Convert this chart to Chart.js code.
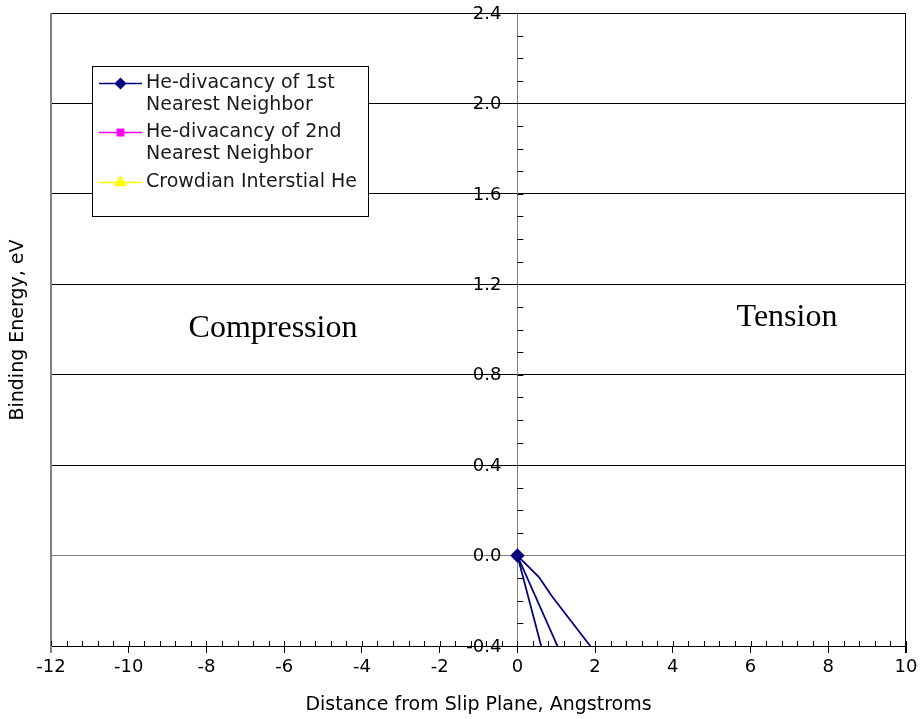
<!DOCTYPE html>
<html>
<head>
<meta charset="utf-8">
<script src="https://cdn.jsdelivr.net/npm/chart.js@4.4.1/dist/chart.umd.min.js"></script>
<style>
  html, body { margin: 0; padding: 0; background: #ffffff; }
  #wrap { width: 922px; height: 719px; }
</style>
</head>
<body>
<div id="wrap"><canvas id="chart" width="922" height="719"></canvas></div>
<script>
// Binding energy vs. distance from the slip plane
const divacancy1stX = [0, 0.56, 0.88, 2.1];
const divacancy1stY = [0, -0.096, -0.178, -0.45];
const branchBX = [0, 1.16];
const branchBY = [0, -0.45];
const branchCX = [0, 0.69];
const branchCY = [0, -0.45];
const divacancy2ndX = [];
const divacancy2ndY = [];
const crowdionX = [];
const crowdionY = [];

const seriesNames = [
  ['He-divacancy of 1st', 'Nearest Neighbor'],
  ['He-divacancy of 2nd', 'Nearest Neighbor'],
  ['Crowdian Interstial He']
];
const regionLabels = ['Compression', 'Tension'];
const xTitle = 'Distance from Slip Plane, Angstroms';
const yTitle = 'Binding Energy, eV';

const NAVY = '#000080', MAGENTA = '#ff00ff', YELLOW = '#ffff00';
const SANS = '"DejaVu Sans", Verdana, sans-serif';

function pts(xs, ys) { return xs.map((x, i) => ({ x: x, y: ys[i] })); }
function fmt1(v) { return Math.abs(v) < 1e-9 ? '0.0' : Number(v).toFixed(1); }

const datasets = [
  { label: seriesNames[0], data: pts(divacancy1stX, divacancy1stY), borderColor: NAVY, backgroundColor: NAVY,
    pointStyle: 'rectRot', pointRadius: c => (c.dataIndex === 0 ? 6 : 0), showLine: true, borderWidth: 1.75, inLegend: true },
  { label: '', data: pts(branchBX, branchBY), borderColor: NAVY, backgroundColor: NAVY,
    pointRadius: 0, showLine: true, borderWidth: 1.75, inLegend: false },
  { label: '', data: pts(branchCX, branchCY), borderColor: NAVY, backgroundColor: NAVY,
    pointRadius: 0, showLine: true, borderWidth: 1.75, inLegend: false },
  { label: seriesNames[1], data: pts(divacancy2ndX, divacancy2ndY), borderColor: MAGENTA, backgroundColor: MAGENTA,
    pointStyle: 'rect', pointRadius: 4.5, showLine: true, borderWidth: 1.5, inLegend: true },
  { label: seriesNames[2], data: pts(crowdionX, crowdionY), borderColor: YELLOW, backgroundColor: YELLOW,
    pointStyle: 'triangle', pointRadius: 5.5, showLine: true, borderWidth: 1.5, inLegend: true }
];

// Frame, minor ticks, y labels, y title, region labels and the boxed legend
const decorations = {
  id: 'decorations',
  beforeDatasetsDraw(chart) {
    const ctx = chart.ctx, a = chart.chartArea;
    const xs = chart.scales.x, ys = chart.scales.y;
    const x0 = xs.getPixelForValue(0);
    ctx.save();
    // left edge (grey) and right edge (black)
    ctx.lineWidth = 2; ctx.strokeStyle = '#808080';
    ctx.beginPath(); ctx.moveTo(a.left, a.top); ctx.lineTo(a.left, a.bottom + 7); ctx.stroke();
    ctx.lineWidth = 1; ctx.strokeStyle = '#000';
    ctx.beginPath(); ctx.moveTo(Math.round(a.right) - 0.5, a.top); ctx.lineTo(Math.round(a.right) - 0.5, a.bottom + 7); ctx.stroke();
    // minor ticks on the x axis every 0.4
    ctx.beginPath();
    for (let i = 0; i <= 55; i++) {
      const px = Math.round(xs.getPixelForValue(-12 + i * 0.4)) + 0.5;
      ctx.moveTo(px, a.bottom); ctx.lineTo(px, a.bottom - 5);
    }
    ctx.stroke();
    // minor ticks on the y axis every 0.1
    ctx.beginPath();
    for (let i = 0; i <= 28; i++) {
      const py = Math.round(ys.getPixelForValue(-0.4 + i * 0.1)) + 0.5;
      ctx.moveTo(x0, py); ctx.lineTo(x0 + 6, py);
    }
    ctx.stroke();
    ctx.restore();
  },
  afterDraw(chart) {
    const ctx = chart.ctx;
    const xs = chart.scales.x, ys = chart.scales.y;
    const x0 = xs.getPixelForValue(0);
    ctx.save();
    // y tick labels, right-aligned a little left of the y axis
    ctx.fillStyle = '#000';
    ctx.font = '18px ' + SANS;
    ctx.textAlign = 'right'; ctx.textBaseline = 'middle';
    ys.ticks.forEach(t => ctx.fillText(fmt1(t.value), x0 - 16, ys.getPixelForValue(t.value) + 1));
    ctx.restore();

    // y axis title
    ctx.save();
    ctx.fillStyle = '#000';
    ctx.font = '19px ' + SANS;
    ctx.textAlign = 'center'; ctx.textBaseline = 'middle';
    ctx.translate(18, 330); ctx.rotate(-Math.PI / 2);
    ctx.fillText(yTitle, 0, 0);
    ctx.restore();

    // region labels
    ctx.save();
    ctx.fillStyle = '#000';
    ctx.font = '32px "Liberation Serif", "Times New Roman", serif';
    ctx.textAlign = 'center'; ctx.textBaseline = 'alphabetic';
    ctx.fillText(regionLabels[0], 273, 337);
    ctx.fillText(regionLabels[1], 787, 326);
    ctx.restore();

    // legend box
    ctx.save();
    ctx.fillStyle = '#fff';
    ctx.fillRect(92, 66, 276, 150);
    ctx.strokeStyle = '#000'; ctx.lineWidth = 1;
    ctx.strokeRect(92.5, 66.5, 276, 150);
    const rows = [83, 132, 182];
    const entries = chart.data.datasets.filter(d => d.inLegend);
    ctx.font = '19px ' + SANS;
    ctx.textBaseline = 'middle'; ctx.textAlign = 'left';
    entries.forEach((d, i) => {
      const y = rows[i];
      ctx.strokeStyle = d.borderColor; ctx.lineWidth = 1.5;
      ctx.beginPath(); ctx.moveTo(99, y + 0.5); ctx.lineTo(142, y + 0.5); ctx.stroke();
      Chart.helpers.drawPoint(ctx, {
        pointStyle: d.pointStyle, rotation: 0, borderWidth: 1,
        radius: d.pointStyle === 'rectRot' ? 5 : (d.pointStyle === 'triangle' ? 6 : 4.5)
      }, 120.5, y + 0.5);
      ctx.fillStyle = d.backgroundColor;
      ctx.fill();
      ctx.fillStyle = '#1a1a1a';
      d.label.forEach((line, j) => ctx.fillText(line, 146, y + j * 22.5));
    });
    ctx.restore();
  }
};

new Chart(document.getElementById('chart'), {
  type: 'scatter',
  data: { datasets: datasets },
  options: {
    responsive: false,
    animation: false,
    devicePixelRatio: 1,
    layout: { padding: { left: 51, right: 16, top: 13, bottom: 0 } },
    plugins: { legend: { display: false }, tooltip: { enabled: false } },
    scales: {
      x: {
        type: 'linear', position: 'bottom', min: -12, max: 10,
        ticks: { stepSize: 2, color: '#000', font: { family: SANS, size: 18 }, padding: 4, maxRotation: 0, autoSkip: false },
        grid: { drawOnChartArea: false, drawTicks: true, tickLength: 7, color: '#000', lineWidth: 1 },
        border: { display: true, color: '#000', width: 1 },
        title: { display: true, text: xTitle, color: '#000', font: { family: SANS, size: 19 }, padding: { top: 4, bottom: 3 } },
        afterFit(scale) { scale.height = 73; }
      },
      y: {
        type: 'linear', position: { x: 0 }, min: -0.4, max: 2.4,
        ticks: { display: false, stepSize: 0.4, callback: v => fmt1(v) },
        grid: { drawTicks: false, lineWidth: 1,
                color: c => (c.tick && Math.abs(c.tick.value) < 1e-9 ? '#808080' : '#000') },
        border: { display: true, color: '#808080', width: 1 },
        afterFit(scale) { scale.paddingTop = 0; scale.paddingBottom = 0; }
      }
    }
  },
  plugins: [decorations]
});
</script>
</body>
</html>
